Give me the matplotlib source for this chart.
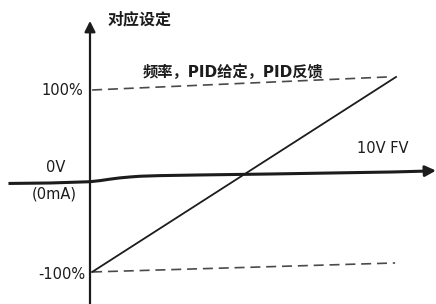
import matplotlib
matplotlib.use('Agg')
import matplotlib.pyplot as plt

plt.rcParams['font.family'] = ['DejaVu Sans', 'Noto Sans CJK SC']

# horizontal input axis (V) and its slightly curved trace (%)
fv_x = [-2.64, -1.3, 0.0, 0.33, 0.66, 0.99, 1.32, 1.65, 2.31, 3.6, 6.0, 8.0, 10.0, 11.0]
fv_y = [-1.6, -1.1, 0.3, 1.5, 3.1, 4.5, 5.5, 6.3, 7.0, 7.7, 8.8, 9.9, 11.0, 11.9]
fv_tip = (11.42, 12.5)

# vertical axis
vert_x = [0.0, 0.0]
vert_y = [-133.0, 164.0]
vert_tip = (0.0, 177.0)

# reference lines
upper_x = [0.07, 9.8]
upper_y = [101.1, 115.4]
lower_x = [0.07, 10.07]
lower_y = [-98.9, -89.0]

# setting characteristic
char_x = [0.07, 10.1]
char_y = [-98.9, 115.4]

dark = '#1c1c1c'
grey = '#4a4a4a'

fig = plt.figure(figsize=(4.36, 3.04), dpi=100)
ax = fig.add_axes([0, 0, 1, 1])
ax.set_xlim(-2.97, 11.42)
ax.set_ylim(-134.1, 200)
ax.axis('off')

ax.plot(fv_x, fv_y, color=dark, lw=2.2)
ax.annotate('', xy=fv_tip, xytext=(fv_x[-1], fv_y[-1]),
            arrowprops=dict(arrowstyle='-|>', color=dark, lw=2, mutation_scale=16, shrinkA=0, shrinkB=0))
ax.plot(vert_x, vert_y, color=dark, lw=1.6)
ax.annotate('', xy=vert_tip, xytext=(vert_x[-1], vert_y[-1]),
            arrowprops=dict(arrowstyle='-|>', color=dark, lw=1.6, mutation_scale=16, shrinkA=0, shrinkB=0))

ax.plot(upper_x, upper_y, color=grey, lw=1.2, linestyle=(0, (6, 3.5)))
ax.plot(lower_x, lower_y, color=grey, lw=1.2, linestyle=(0, (6, 3.5)))
ax.plot(char_x, char_y, color=dark, lw=1.3)

ax.text(0.59, 179, '对应设定', fontsize=11.5, fontweight='bold', color=dark, ha='left', va='center',
        family=['Noto Sans CJK SC', 'DejaVu Sans'])
ax.text(1.75, 121, '频率，PID给定，PID反馈', fontsize=11, fontweight='bold', color=dark, ha='left', va='center')
ax.text(-0.23, 100, '100%', fontsize=10.5, color=dark, ha='right', va='center')
ax.text(-1.12, 15.4, '0V', fontsize=10.5, color=dark, ha='center', va='center')
ax.text(-1.17, -13.7, '(0mA)', fontsize=10.5, color=dark, ha='center', va='center')
ax.text(-0.165, -101.6, '-100%', fontsize=10.5, color=dark, ha='right', va='center')
ax.text(9.65, 36.3, '10V FV', fontsize=10.5, color=dark, ha='center', va='center')

fig.savefig('out.png', dpi=100)
